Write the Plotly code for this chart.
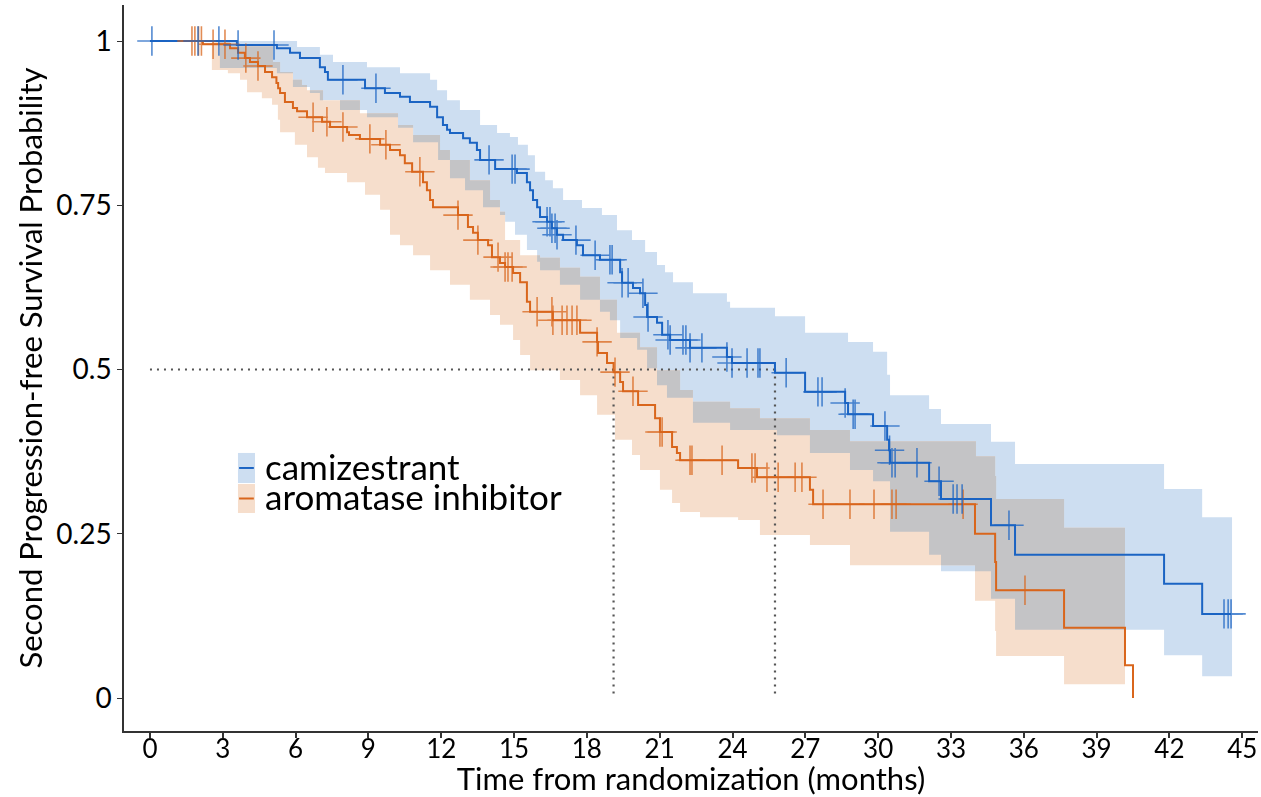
import plotly.graph_objects as go

# ---------------- data ----------------
# Kaplan-Meier step curves (time in months, survival probability after each time)
cami_t = [0, 3.58, 5.23, 5.77, 6.18, 7.00, 7.21, 7.33, 8.86, 9.68,
          10.30, 10.71, 11.54, 11.83, 12.07, 12.24, 12.36, 12.90, 13.18, 13.47,
          13.60, 14.22, 15.12, 15.53, 15.66, 15.78, 15.95, 16.07, 16.36, 16.56,
          16.77, 17.02, 17.59, 17.84, 18.54, 19.37, 19.45, 19.90, 20.19, 20.40,
          20.48, 20.89, 21.10, 21.43, 22.25, 23.77, 23.98, 25.75, 26.99, 28.64,
          28.76, 29.79, 30.37, 30.45, 30.49, 32.10, 32.59, 34.65, 35.64, 41.78,
          43.35, 44.54]
cami_s = [1.0, 0.994, 0.989, 0.982, 0.974, 0.960, 0.953, 0.941, 0.928, 0.921,
          0.915, 0.907, 0.900, 0.884, 0.872, 0.865, 0.860, 0.852, 0.845, 0.834,
          0.819, 0.805, 0.799, 0.785, 0.773, 0.758, 0.747, 0.732, 0.725, 0.715,
          0.705, 0.697, 0.689, 0.674, 0.667, 0.648, 0.632, 0.624, 0.616, 0.598,
          0.580, 0.571, 0.553, 0.545, 0.533, 0.519, 0.510, 0.495, 0.466, 0.449,
          0.432, 0.414, 0.393, 0.377, 0.358, 0.330, 0.303, 0.263, 0.218, 0.174,
          0.128, 0.128]

ai_t = [0, 2.18, 3.30, 3.63, 3.91, 4.12, 4.45, 4.74, 5.03, 5.21,
        5.28, 5.36, 5.56, 5.89, 6.06, 6.47, 7.09, 7.42, 8.12, 8.20,
        8.65, 9.48, 9.89, 10.30, 10.50, 10.80, 11.25, 11.41, 11.54, 11.66,
        12.69, 13.10, 13.31, 13.51, 13.93, 14.09, 14.42, 14.63, 14.96, 15.25,
        15.53, 15.66, 16.60, 17.72, 18.42, 18.46, 18.83, 19.10, 19.37, 19.49,
        20.11, 20.81, 21.01, 21.51, 21.71, 21.84, 24.23, 25.01, 27.19, 27.32,
        33.99, 34.82, 34.86, 37.66, 40.17, 40.50]
ai_s = [1.0, 0.995, 0.989, 0.982, 0.974, 0.968, 0.962, 0.953, 0.945, 0.936,
        0.928, 0.921, 0.907, 0.898, 0.893, 0.884, 0.877, 0.869, 0.861, 0.857,
        0.851, 0.842, 0.834, 0.826, 0.814, 0.801, 0.785, 0.773, 0.758, 0.747,
        0.735, 0.717, 0.708, 0.697, 0.689, 0.671, 0.662, 0.656, 0.647, 0.633,
        0.603, 0.588, 0.575, 0.556, 0.542, 0.525, 0.510, 0.496, 0.481, 0.467,
        0.446, 0.426, 0.405, 0.382, 0.373, 0.362, 0.350, 0.336, 0.317, 0.295,
        0.250, 0.207, 0.164, 0.107, 0.050, 0.0]

# censoring times
cami_cens = [0.08, 1.98, 2.84, 3.63, 5.11, 7.95, 9.31, 13.97, 14.92, 15.04,
             16.36, 16.48, 16.56, 16.69, 16.77, 17.55, 18.34, 18.95, 19.04, 19.45,
             19.70, 20.31, 20.52, 21.34, 21.43, 21.96, 22.08, 22.25, 22.74, 23.77,
             23.98, 24.60, 25.05, 25.13, 26.21, 27.52, 27.69, 28.64, 28.97, 29.05,
             30.28, 30.47, 30.57, 30.70, 31.60, 32.51, 33.09, 33.25, 33.46, 35.39,
             44.25, 44.42, 44.54]
ai_cens = [1.73, 1.85, 2.00, 2.12, 2.60, 3.09, 3.95, 4.45, 6.72, 7.29,
           7.95, 9.06, 9.72, 11.12, 12.69, 13.51, 14.34, 14.63, 14.75, 14.92,
           15.95, 16.56, 16.60, 16.98, 17.18, 17.39, 17.59, 18.42, 19.16, 19.90,
           21.01, 21.10, 22.25, 22.33, 23.57, 24.80, 24.93, 25.42, 25.88, 26.58,
           26.86, 27.73, 28.84, 29.83, 30.57, 30.74, 33.50, 36.05]

# 95% confidence bands (step functions)
cami_up_t = [0, 6.06, 7.00, 7.54, 8.94, 10.30, 11.54, 11.83, 12.24, 12.77,
             13.60, 14.30, 14.83, 15.16, 15.57, 15.86, 16.28, 16.60, 17.02, 17.80,
             18.62, 19.24, 19.86, 20.40, 20.89, 21.22, 21.55, 22.37, 23.77, 23.90,
             25.75, 26.99, 28.76, 29.79, 30.37, 30.49, 32.10, 32.59, 34.65, 35.64,
             41.78, 43.35, 44.58]
cami_up_s = [1.0, 0.991, 0.979, 0.968, 0.960, 0.951, 0.941, 0.925, 0.910, 0.895,
             0.872, 0.860, 0.854, 0.842, 0.826, 0.801, 0.788, 0.776, 0.758, 0.746,
             0.735, 0.712, 0.697, 0.679, 0.659, 0.648, 0.633, 0.616, 0.603, 0.594,
             0.581, 0.556, 0.542, 0.527, 0.492, 0.461, 0.440, 0.417, 0.390, 0.356,
             0.318, 0.275, 0.275]
cami_lo_t = [0, 2.88, 5.23, 5.89, 6.59, 7.00, 7.83, 8.94, 10.22, 10.84,
             11.87, 12.36, 12.98, 13.72, 14.42, 14.63, 15.04, 15.53, 15.95, 16.07,
             16.89, 17.72, 18.54, 18.95, 19.37, 20.07, 20.48, 20.89, 21.30, 22.37,
             23.90, 25.83, 27.19, 28.84, 29.79, 30.49, 32.10, 32.59, 34.65, 35.64,
             41.78, 43.35, 44.58]
cami_lo_s = [1.0, 0.959, 0.951, 0.930, 0.921, 0.910, 0.895, 0.884, 0.868, 0.846,
             0.819, 0.791, 0.773, 0.747, 0.735, 0.725, 0.705, 0.682, 0.664, 0.651,
             0.629, 0.606, 0.588, 0.575, 0.548, 0.530, 0.502, 0.476, 0.457, 0.419,
             0.408, 0.400, 0.373, 0.347, 0.330, 0.253, 0.218, 0.193, 0.151, 0.104,
             0.065, 0.033, 0.033]
ai_up_t = [2.55, 3.30, 5.07, 5.36, 5.89, 6.26, 6.47, 7.13, 8.65, 10.22,
           10.84, 11.95, 12.36, 13.18, 14.01, 14.42, 14.63, 15.25, 16.07, 16.89,
           17.72, 18.54, 19.24, 20.19, 20.89, 21.84, 22.37, 23.90, 25.13, 27.19,
           28.84, 34.03, 34.82, 34.86, 37.66, 40.17]
ai_up_s = [1.0, 0.992, 0.968, 0.953, 0.941, 0.933, 0.925, 0.910, 0.890, 0.872,
           0.857, 0.834, 0.819, 0.788, 0.758, 0.740, 0.697, 0.674, 0.670, 0.655,
           0.641, 0.606, 0.556, 0.534, 0.499, 0.469, 0.451, 0.441, 0.426, 0.408,
           0.391, 0.368, 0.338, 0.303, 0.259, 0.259]
ai_lo_t = [2.55, 3.21, 3.71, 4.00, 4.61, 5.03, 5.27, 5.36, 5.97, 6.47,
           6.92, 7.21, 8.12, 8.86, 9.48, 9.89, 10.30, 10.84, 11.54, 12.36,
           13.18, 14.01, 14.42, 14.96, 15.25, 15.66, 16.89, 17.72, 18.42, 19.16,
           19.86, 20.19, 21.01, 21.51, 21.84, 22.66, 24.23, 25.13, 27.19, 28.84,
           33.99, 34.82, 34.86, 37.66, 40.17]
ai_lo_s = [0.956, 0.951, 0.941, 0.922, 0.913, 0.903, 0.880, 0.861, 0.842, 0.823,
           0.807, 0.799, 0.785, 0.766, 0.743, 0.705, 0.689, 0.674, 0.651, 0.629,
           0.606, 0.583, 0.568, 0.545, 0.522, 0.499, 0.484, 0.461, 0.431, 0.393,
           0.370, 0.347, 0.317, 0.297, 0.283, 0.275, 0.271, 0.248, 0.233, 0.202,
           0.148, 0.102, 0.064, 0.021, 0.021]

median_cami = 25.75
median_ai = 19.1

x_ticks = list(range(0, 46, 3))
y_ticks = [0, 0.25, 0.5, 0.75, 1]
y_ticktext = ["0", "0.25", "0.5", "0.75", "1"]

series_names = ["camizestrant", "aromatase inhibitor"]

# ---------------- styling ----------------
BLUE = "#1B64C3"
ORANGE = "#D9661C"
BLUE_FILL = "#CDDEF1"
ORANGE_FILL = "#F6DECC"
GREY_FILL = "#C4C4C6"
FONT = "Lato, Carlito, 'Liberation Sans', sans-serif"


def step_at(ts, vs, t):
    v = vs[0]
    for ti, vi in zip(ts, vs):
        if ti <= t + 1e-9:
            v = vi
        else:
            break
    return v


# overlap of the two confidence bands (drawn grey)
t0, t1 = ai_up_t[0], ai_up_t[-1]
grid = sorted({t for t in cami_up_t + cami_lo_t + ai_up_t + ai_lo_t if t0 <= t <= t1})
ov_up, ov_lo = [], []
for t in grid:
    up = min(step_at(cami_up_t, cami_up_s, t), step_at(ai_up_t, ai_up_s, t))
    lo = max(step_at(cami_lo_t, cami_lo_s, t), step_at(ai_lo_t, ai_lo_s, t))
    ov_up.append(up)
    ov_lo.append(min(lo, up))

fig = go.Figure()


def band(xu, yu, xl, yl, color):
    fig.add_trace(go.Scatter(x=xu, y=yu, mode="lines", line=dict(width=0, shape="hv"),
                             showlegend=False, hoverinfo="skip"))
    fig.add_trace(go.Scatter(x=xl, y=yl, mode="lines", line=dict(width=0, shape="hv"),
                             fill="tonexty", fillcolor=color, showlegend=False,
                             hoverinfo="skip"))


band(cami_up_t, cami_up_s, cami_lo_t, cami_lo_s, BLUE_FILL)
band(ai_up_t, ai_up_s, ai_lo_t, ai_lo_s, ORANGE_FILL)
band(grid, ov_up, grid, ov_lo, GREY_FILL)

# median reference lines
DOT = dict(color="#555555", width=2.2, dash="2px,5px")
fig.add_trace(go.Scatter(x=[0, median_cami], y=[0.5, 0.5], mode="lines", line=DOT,
                         showlegend=False, hoverinfo="skip"))
for m in (median_ai, median_cami):
    fig.add_trace(go.Scatter(x=[m, m], y=[0.5, 0], mode="lines", line=DOT,
                             showlegend=False, hoverinfo="skip"))

# KM curves
fig.add_trace(go.Scatter(x=ai_t, y=ai_s, mode="lines", name=series_names[1],
                         line=dict(color=ORANGE, width=2, shape="hv"), showlegend=False))
fig.add_trace(go.Scatter(x=cami_t, y=cami_s, mode="lines", name=series_names[0],
                         line=dict(color=BLUE, width=2, shape="hv"), showlegend=False))

# censor marks
fig.add_trace(go.Scatter(x=ai_cens, y=[step_at(ai_t, ai_s, t) for t in ai_cens],
                         mode="markers", showlegend=False, opacity=0.75,
                         marker=dict(symbol="cross-thin", size=21,
                                     line=dict(color=ORANGE, width=1.6))))
fig.add_trace(go.Scatter(x=cami_cens, y=[step_at(cami_t, cami_s, t) for t in cami_cens],
                         mode="markers", showlegend=False, opacity=0.75,
                         marker=dict(symbol="cross-thin", size=21,
                                     line=dict(color=BLUE, width=1.6))))

# manual legend (swatch + line + text)
legend_items = [(series_names[0], BLUE_FILL, BLUE, 0.383, 0.3416),
                (series_names[1], ORANGE_FILL, ORANGE, 0.3402, 0.3003)]
for name, fillc, linec, ytop, ybot in legend_items:
    fig.add_shape(type="rect", xref="paper", yref="paper", x0=0.1005, x1=0.1155,
                  y0=ybot, y1=ytop, fillcolor=fillc, line=dict(width=0), layer="above")
    ymid = (ytop + ybot) / 2
    fig.add_shape(type="line", xref="paper", yref="paper", x0=0.1015, x1=0.1145,
                  y0=ymid, y1=ymid, line=dict(color=linec, width=2), layer="above")
    fig.add_annotation(xref="paper", yref="paper", x=0.1226, y=ymid + 0.003,
                       xanchor="left", yanchor="middle", text=name, showarrow=False,
                       font=dict(family=FONT, size=35, color="black"))

fig.update_layout(
    width=1261, height=797,
    margin=dict(l=124, r=3, t=5, b=66, autoexpand=False),
    paper_bgcolor="white", plot_bgcolor="white",
    font=dict(family=FONT, color="black"),
    showlegend=False,
)
fig.update_xaxes(range=[-1.07, 45.65], tickvals=x_ticks, ticks="outside", ticklen=5,
                 tickwidth=1.5, tickcolor="#333333", showline=True, linecolor="#333333",
                 linewidth=2, showgrid=False, zeroline=False, automargin=False,
                 ticklabelstandoff=-11,
                 tickfont=dict(family=FONT, size=26),
                 title=dict(text="Time from randomization (months)",
                            font=dict(family=FONT, size=31), standoff=6))
fig.update_yaxes(range=[-0.0502, 1.0548], tickvals=y_ticks, ticktext=y_ticktext,
                 ticks="outside", ticklen=5, tickwidth=1.2, tickcolor="#333333",
                 showline=True, linecolor="#333333", linewidth=1.5, showgrid=False,
                 zeroline=False, automargin=False,
                 tickfont=dict(family=FONT, size=28),
                 title=dict(text="Second Progression-free Survival Probability",
                            font=dict(family=FONT, size=31), standoff=4))

fig.write_html("out.html", config={"displayModeBar": False},
               post_script="document.body.style.margin='0';")
